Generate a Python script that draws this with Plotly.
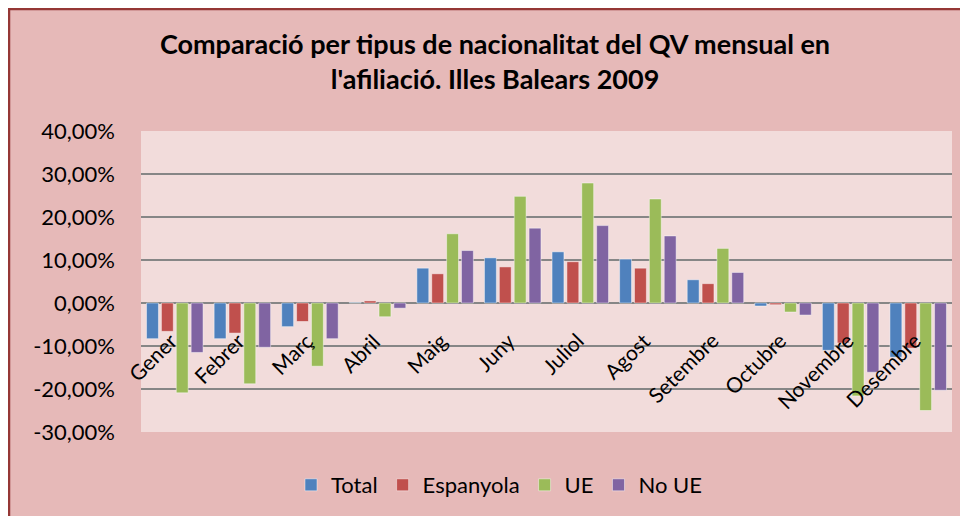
import plotly.graph_objects as go

months = ["Gener", "Febrer", "Març", "Abril", "Maig", "Juny", "Juliol",
          "Agost", "Setembre", "Octubre", "Novembre", "Desembre"]
total = [-8.3, -8.3, -5.5, 0.1, 8.1, 10.5, 11.9, 10.2, 5.4, -0.7, -11.0, -12.6]
espanyola = [-6.6, -7.0, -4.3, 0.5, 6.8, 8.4, 9.6, 8.1, 4.5, -0.4, -9.3, -10.5]
ue = [-20.9, -18.8, -14.7, -3.2, 16.1, 24.8, 27.9, 24.2, 12.7, -2.1, -21.6, -25.0]
no_ue = [-11.5, -10.3, -8.3, -1.2, 12.2, 17.4, 18.0, 15.6, 7.1, -2.8, -16.1, -20.3]
series_names = ["Total", "Espanyola", "UE", "No UE"]
series_values = [total, espanyola, ue, no_ue]
colors = ["#4F81BD", "#C0504D", "#9BBB59", "#8064A2"]
yticks = [-30, -20, -10, 0, 10, 20, 30, 40]
ytick_labels = ["-30,00%", "-20,00%", "-10,00%", "0,00%", "10,00%", "20,00%", "30,00%", "40,00%"]

FONT = "Lato"
W, H = 960, 508
L, R, T, B = 133, 16, 123, 84

fig = go.Figure()
for name, vals, col in zip(series_names, series_values, colors):
    fig.add_trace(go.Bar(
        x=months, y=vals, name=name,
        marker=dict(color=col, line=dict(color="rgba(255,255,255,0.45)", width=1)),
    ))

# category labels at the zero line, rotated like Excel
for m in months:
    fig.add_annotation(
        x=m, y=0, xref="x", yref="y", text=m, showarrow=False,
        textangle=-45, xanchor="right", yanchor="top",
        xshift=10, yshift=-22,
        font=dict(family=FONT, size=21, color="#000000"),
    )

pw = W - L - R
ph = H - T - B
def px_x(p):
    return (p - L) / pw
def px_y(p):
    return (H - B - p) / ph

# dark red border of the chart frame (top and left edges)
fig.add_shape(type="line", xref="paper", yref="paper",
              x0=px_x(0), x1=px_x(W + 5), y0=px_y(1), y1=px_y(1),
              line=dict(color="#953735", width=2.5))
fig.add_shape(type="line", xref="paper", yref="paper",
              x0=px_x(1), x1=px_x(1), y0=px_y(0), y1=px_y(H + 5),
              line=dict(color="#953735", width=2.5))

fig.update_layout(
    width=W, height=H,
    margin=dict(l=L, r=R, t=T, b=B, autoexpand=False),
    paper_bgcolor="#E6B9B8",
    plot_bgcolor="#F2DCDB",
    barmode="group",
    bargap=0.12,
    bargroupgap=0.2,
    title=dict(
        text="Comparació per tipus de nacionalitat del QV mensual en<br>l'afiliació. Illes Balears 2009",
        x=487 / W, xanchor="center",
        y=1 - 46 / H, yanchor="middle",
        font=dict(family=FONT, size=27, color="#000000", weight="bold"),
    ),
    legend=dict(
        orientation="h", x=px_x(491), xanchor="center",
        y=px_y(477), yanchor="middle",
        font=dict(family=FONT, size=22, color="#000000"),
        bgcolor="rgba(0,0,0,0)", itemwidth=30, tracegroupgap=0,
    ),
    font=dict(family=FONT, color="#000000"),
    xaxis=dict(range=[-0.5, len(months) - 0.5], autorange=False,
               showticklabels=False, showgrid=False, zeroline=False,
               showline=False, ticks=""),
    yaxis=dict(
        range=[-30, 40], autorange=False, tickvals=yticks, ticktext=ytick_labels,
        showgrid=True, gridcolor="#868686", gridwidth=2,
        zeroline=True, zerolinecolor="#868686", zerolinewidth=2,
        showline=False, ticks="", ticklabelstandoff=25,
        tickfont=dict(family=FONT, size=22, color="#000000"),
    ),
)

fig.write_html("out.html")
